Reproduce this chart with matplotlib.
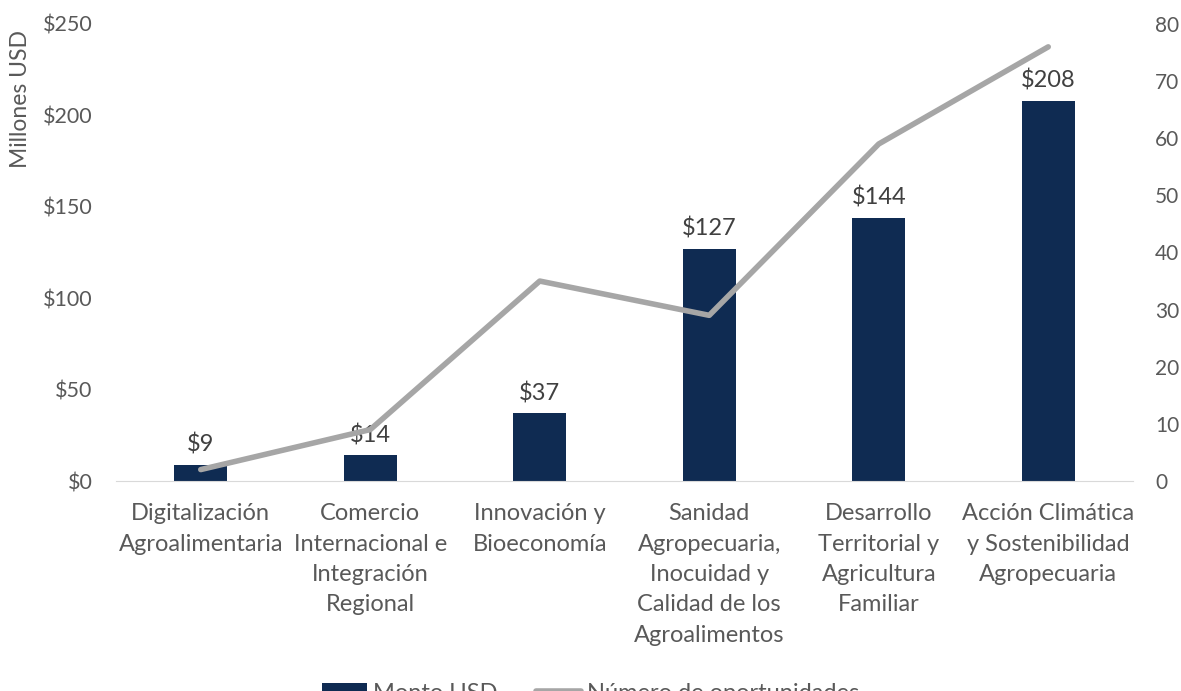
import matplotlib
matplotlib.use("Agg")
import matplotlib.pyplot as plt
from matplotlib.ticker import FuncFormatter

plt.rcParams["font.family"] = ["Lato", "DejaVu Sans"]

categories = [
    "Digitalización\nAgroalimentaria",
    "Comercio\nInternacional e\nIntegración\nRegional",
    "Innovación y\nBioeconomía",
    "Sanidad\nAgropecuaria,\nInocuidad y\nCalidad de los\nAgroalimentos",
    "Desarrollo\nTerritorial y\nAgricultura\nFamiliar",
    "Acción Climática\ny Sostenibilidad\nAgropecuaria",
]
monto_usd = [9, 14, 37, 127, 144, 208]
oportunidades = [2, 9, 35, 29, 59, 76]

text_color = "#595959"
bar_color = "#0F2B52"
line_color = "#A6A6A6"

fig = plt.figure(figsize=(11.81, 6.91), dpi=100)
ax = fig.add_axes([116 / 1181, 1 - 481 / 691, (1133 - 116) / 1181, (481 - 24) / 691])
ax2 = ax.twinx()

x = list(range(len(categories)))
ax.bar(x, monto_usd, width=0.31, color=bar_color, label="Monto USD", zorder=2)
ax2.plot(x, oportunidades, color=line_color, linewidth=4, label="Número de oportunidades",
         solid_capstyle="round", zorder=3)

for xi, v in zip(x, monto_usd):
    ax.text(xi, v + 5, f"${v}", ha="center", va="bottom", fontsize=17, color="#404040")

ax.set_xlim(-0.5, len(categories) - 0.5)
ax.set_ylim(0, 250)
ax.set_yticks(range(0, 251, 50))
ax.yaxis.set_major_formatter(FuncFormatter(lambda v, p: f"${int(v)}"))
ax2.set_ylim(0, 80)
ax2.set_yticks(range(0, 81, 10))

ax.set_xticks(x)
ax.set_xticklabels(categories, fontsize=17, color=text_color, linespacing=1.55)
ax.set_ylabel("Millones USD", fontsize=16.5, color=text_color)
ax.yaxis.set_label_coords(-0.084, 0.835)

for a in (ax, ax2):
    for s in a.spines.values():
        s.set_visible(False)
    a.tick_params(length=0, labelsize=15.5, labelcolor=text_color)
ax.spines["bottom"].set_visible(True)
ax.spines["bottom"].set_color("#D9D9D9")
ax.tick_params(axis="y", pad=17)
ax2.tick_params(axis="y", pad=16, labelsize=15)
ax.tick_params(axis="x", pad=16, labelsize=17)

ax.set_zorder(ax2.get_zorder() - 1)
ax2.patch.set_visible(False)

h1, l1 = ax.get_legend_handles_labels()
h2, l2 = ax2.get_legend_handles_labels()
fig.legend(h1 + h2, l1 + l2, loc="center", bbox_to_anchor=(0.5, 1 - 693 / 691),
           ncol=2, frameon=False, fontsize=17, labelcolor=text_color,
           handlelength=1.9, columnspacing=1.65, handletextpad=0.25)

fig.savefig("out.png", dpi=100)
